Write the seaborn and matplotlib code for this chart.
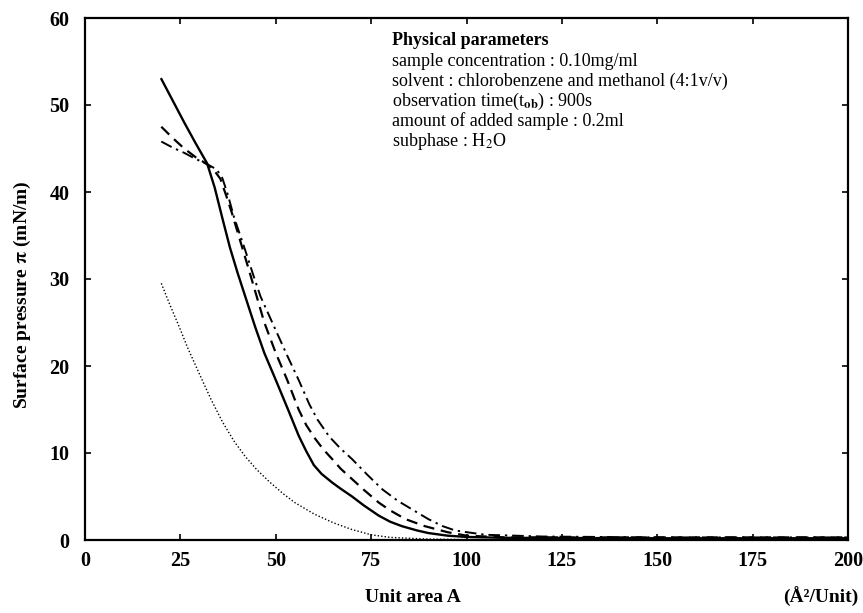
import numpy as np
import pandas as pd
import matplotlib
matplotlib.use("Agg")
import matplotlib.pyplot as plt
import seaborn as sns

# ---- data ----
solid_x = [20, 23, 26, 29, 32, 34, 36, 38, 40, 42, 44.6, 47, 50, 53.5, 56, 58, 60, 62, 64.8,
           67, 70, 73, 77, 80, 83, 87, 90, 95, 100, 110, 150, 200]
solid_y = [53.0, 50.5, 48.0, 45.6, 43.3, 40.5, 37.0, 33.6, 30.7, 28.0, 24.5, 21.5, 18.4, 14.7,
           12.0, 10.2, 8.6, 7.6, 6.6, 5.9, 5.0, 4.0, 2.8, 2.1, 1.6, 1.1, 0.8, 0.5, 0.35, 0.25,
           0.2, 0.2]

dashed_x = [20, 23, 26, 29, 32, 34, 35.5, 37, 38.5, 40.4, 43, 45, 47, 50, 53, 56, 58, 60.4,
            62.5, 64.8, 67, 70, 73, 77, 80, 84, 89, 95, 100, 110, 150, 200]
dashed_y = [47.5, 46.2, 45.0, 44.0, 43.2, 42.4, 41.5, 39.6, 37.6, 34.8, 31.0, 28.0, 25.0,
            21.5, 18.4, 15.0, 13.2, 11.6, 10.4, 9.3, 8.2, 7.0, 5.8, 4.3, 3.4, 2.4, 1.6, 0.9,
            0.5, 0.3, 0.3, 0.3]

dashdot_x = [20, 23, 26, 29, 32, 34.5, 36, 37.5, 39, 42, 44, 46, 49.6, 53, 56, 58.8, 61, 64,
             67, 70, 74, 78, 82, 85.8, 90, 93.7, 97, 100, 105, 120, 150, 200]
dashdot_y = [45.8, 45.1, 44.5, 43.8, 43.2, 42.6, 41.6, 39.6, 37.2, 33.3, 30.6, 28.0, 24.5,
             21.2, 18.4, 15.6, 13.8, 11.9, 10.5, 9.3, 7.5, 5.8, 4.5, 3.5, 2.4, 1.6, 1.1, 0.9,
             0.6, 0.4, 0.3, 0.3]

dotted_x = [20, 22, 24.7, 27, 30.7, 33, 36, 39, 42, 45, 48.3, 52, 55, 60, 65, 70, 75, 80, 90, 100]
dotted_y = [29.5, 27.3, 24.5, 22.0, 18.4, 16.2, 13.6, 11.4, 9.6, 8.1, 6.7, 5.3, 4.3, 3.0,
            2.0, 1.2, 0.6, 0.3, 0.1, 0.05]

x_ticks = [0, 25, 50, 75, 100, 125, 150, 175, 200]
y_ticks = [0, 10, 20, 30, 40, 50, 60]

param_title = "Physical parameters"
param_lines = [
    "sample concentration : 0.10mg/ml",
    "solvent : chlorobenzene and methanol (4:1v/v)",
    r"observation time(t$_{\mathbf{ob}}$) : 900s",
    "amount of added sample : 0.2ml",
    r"subphase : H$_2$O",
]

# ---- styling ----
sns.set_theme(style="ticks")
plt.rcParams["font.family"] = ["Liberation Serif", "DejaVu Serif"]
plt.rcParams["mathtext.fontset"] = "stix"
for k in ["text.color", "axes.labelcolor", "xtick.color", "ytick.color", "axes.edgecolor"]:
    plt.rcParams[k] = "black"

fig = plt.figure(figsize=(8.63, 6.13), dpi=100)
ax = fig.add_axes([85 / 863, 1 - 540 / 613, 763 / 863, 522 / 613])

series = [
    (solid_x, solid_y, "-", 1.7),
    (dashed_x, dashed_y, (0, (5, 3)), 1.6),
    (dashdot_x, dashdot_y, (0, (6, 2.5, 1.2, 2.5)), 1.4),
    (dotted_x, dotted_y, (0, (1, 1.5)), 1.0),
]
for xs, ys, ls, lw in series:
    df = pd.DataFrame({"A": xs, "pi": ys})
    sns.lineplot(data=df, x="A", y="pi", ax=ax, color="black",
                 linestyle=ls, linewidth=lw, sort=False, estimator=None)

ax.set_xlim(0, 200)
ax.set_ylim(0, 60)
ax.set_xticks(x_ticks)
ax.set_yticks(y_ticks)
ax.set_xticklabels([str(t) for t in x_ticks], fontsize=14.5, fontweight="bold")
ax.set_yticklabels([str(t) for t in y_ticks], fontsize=14.5, fontweight="bold")
ax.tick_params(direction="in", length=4, width=1.2, top=True, right=True,
               colors="black")
ax.tick_params(axis="y", pad=11)
ax.tick_params(axis="x", pad=8)
for sp in ax.spines.values():
    sp.set_visible(True)
    sp.set_linewidth(1.6)
    sp.set_color("black")
ax.set_xlabel("")
ax.set_ylabel("")

# parameter block
ax.text(80.5, 57.4, param_title, fontsize=13, fontweight="bold", va="center", ha="left")
ys_txt = [55.0, 52.7, 50.4, 48.1, 45.8]
for yy, line in zip(ys_txt, param_lines):
    ax.text(80.5, yy, line, fontsize=13, va="center", ha="left")

fig.text(22 / 863, 1 - 295 / 613, r"Surface pressure $\mathbf{\pi}$ (mN/m)", rotation=90,
         fontsize=14, fontweight="bold", ha="center", va="center")
fig.text(413 / 863, 1 - 597 / 613, "Unit area A", fontsize=14, fontweight="bold",
         ha="center", va="center")
fig.text(858 / 863, 1 - 597 / 613, "(Å²/Unit)", fontsize=14, fontweight="bold",
         ha="right", va="center")

fig.savefig("out.png", dpi=100, facecolor="white")
